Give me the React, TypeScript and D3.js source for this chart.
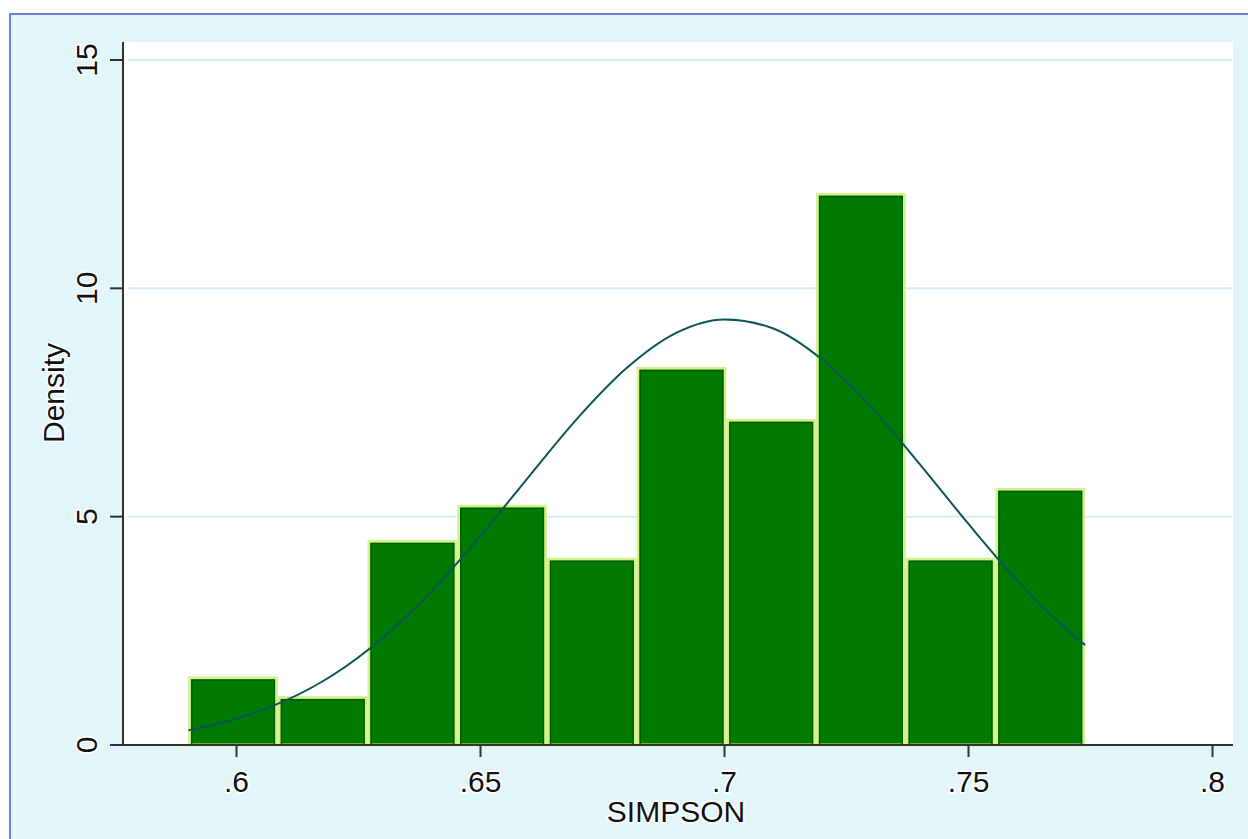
import React from "react";
import * as d3 from "d3";

const binStart = 0.5901;
const binWidth = 0.01838;
const densities = [1.5, 1.07, 4.49, 5.26, 4.1, 8.28, 7.14, 12.09, 4.1, 5.63];

const curveX = [0.5901, 0.6, 0.61, 0.62, 0.63, 0.64, 0.65, 0.66, 0.67, 0.68, 0.69, 0.7, 0.71, 0.72, 0.73, 0.74, 0.75, 0.76, 0.77, 0.7739];
const curveY = [0.32, 0.575, 0.97, 1.55, 2.35, 3.37, 4.58, 5.89, 7.17, 8.26, 9.02, 9.32, 9.12, 8.44, 7.41, 6.15, 4.84, 3.6, 2.54, 2.19];

const xTicks = [0.6, 0.65, 0.7, 0.75, 0.8];
const xTickLabels = [".6", ".65", ".7", ".75", ".8"];
const yTicks = [0, 5, 10, 15];

export default function App() {
  const W = 1248, H = 839;
  const x = d3.scaleLinear().domain([0.6, 0.8]).range([236.5, 1212.5]);
  const y = d3.scaleLinear().domain([0, 15]).range([745, 60]);
  const line = d3
    .line<number>()
    .x((_, i) => x(curveX[i]))
    .y((d) => y(d))
    .curve(d3.curveMonotoneX);
  const font = "'Liberation Sans', Arial, sans-serif";
  const textStyle = { paintOrder: "stroke" as const };
  return (
    <svg width={W} height={H} style={{ position: "absolute", left: 0, top: 0 }} fontFamily={font}>
      <rect x={0} y={0} width={W} height={H} fill="#ffffff" />
      <rect x={10} y={14} width={W + 20} height={H + 20} fill="#e2f6fa" stroke="#6a7fd6" strokeWidth={2} />
      <rect x={123} y={42} width={1110} height={703} fill="#ffffff" />
      {yTicks.filter((t) => t > 0).map((t) => (
        <line key={t} x1={128} x2={1232} y1={y(t)} y2={y(t)} stroke="#d6eef5" strokeWidth={2} />
      ))}
      {densities.map((d, i) => {
        const x0 = x(binStart + i * binWidth);
        const x1 = x(binStart + (i + 1) * binWidth);
        const yt = y(d);
        return (
          <g key={i}>
            <rect x={x0 + 1.5} y={yt + 1.5} width={x1 - x0 - 3} height={745 - yt - 1.5} fill="#007a00" stroke="#d2f28a" strokeWidth={3} />
            <rect x={x0 + 3.5} y={yt + 3.5} width={x1 - x0 - 7} height={745 - yt - 3.5} fill="none" stroke="#035a03" strokeWidth={1.5} />
          </g>
        );
      })}
      <path d={line(curveY) || ""} fill="none" stroke="#0b5557" strokeWidth={2} />
      <line x1={123} x2={123} y1={42} y2={745} stroke="#333" strokeWidth={2} />
      <line x1={110} x2={1233} y1={745} y2={745} stroke="#333" strokeWidth={2} />
      {yTicks.map((t) => (
        <g key={t}>
          <line x1={110} x2={123} y1={y(t)} y2={y(t)} stroke="#333" strokeWidth={2} />
          <text transform={`translate(97,${y(t)}) rotate(-90)`} textAnchor="middle" fontSize={30} fill="#111" stroke="#fff" strokeWidth={3} style={textStyle}>
            {t}
          </text>
        </g>
      ))}
      {xTicks.map((t, i) => (
        <g key={t}>
          <line x1={x(t)} x2={x(t)} y1={745} y2={757} stroke="#333" strokeWidth={2} />
          <text x={x(t)} y={792} textAnchor="middle" fontSize={30} fill="#111" stroke="#fff" strokeWidth={3} style={textStyle}>
            {xTickLabels[i]}
          </text>
        </g>
      ))}
      <text x={676} y={822} textAnchor="middle" fontSize={30} fill="#111" stroke="#fff" strokeWidth={3} style={textStyle}>SIMPSON</text>
      <text transform="translate(64,393) rotate(-90)" textAnchor="middle" fontSize={30} fill="#111" stroke="#fff" strokeWidth={3} style={textStyle}>Density</text>
    </svg>
  );
}
